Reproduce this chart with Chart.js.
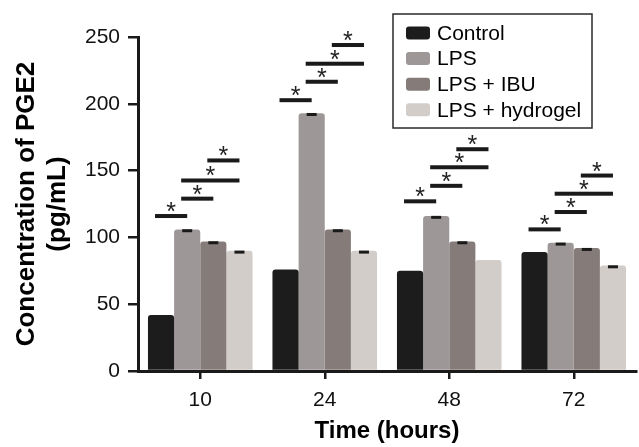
<!DOCTYPE html>
<html>
<head>
<meta charset="utf-8">
<script src="https://cdn.jsdelivr.net/npm/chart.js@4.4.1/dist/chart.umd.min.js"></script>
<style>
html,body{margin:0;padding:0;background:#fff;}
#wrap{width:639px;height:447px;position:relative;}
</style>
</head>
<body>
<div id="wrap"><canvas id="c" width="639" height="447"></canvas></div>
<script>
// ---- data ----
const categories = ['10', '24', '48', '72'];
const seriesNames = ['Control', 'LPS', 'LPS + IBU', 'LPS + hydrogel'];
const control  = [42, 76, 75, 89];
const lps      = [106, 193, 116, 96];
const lpsIbu   = [97, 106, 97, 92];
const lpsHydro = [90, 90, 83, 79];
// error (SEM) values; 0 = not visible
const controlErr  = [0, 0, 0, 0];
const lpsErr      = [1, 1, 1, 1];
const lpsIbuErr   = [1, 1, 1, 1];
const lpsHydroErr = [1, 1, 0, 1];
const yTicks = [0, 50, 100, 150, 200, 250];
// significance bars: pairs of series and heights per time point
const sigPairs = [[0, 1], [1, 2], [1, 3], [2, 3]];
const sigControlLps = [116, 202.7, 127, 106];
const sigLpsIbu     = [129, 216.5, 138.6, 119];
const sigLpsHydro   = [142.6, 230, 152.5, 132.7];
const sigIbuHydro   = [157.6, 244, 166, 146.3];

// ---- styles ----
const FONT = '"Liberation Sans", Arial, Helvetica, sans-serif';
const colors = ['#1c1c1c', '#9d9797', '#857b79', '#d2cdc9'];
const INK = '#1a1a1a';

const values = [control, lps, lpsIbu, lpsHydro];
const errs = [controlErr, lpsErr, lpsIbuErr, lpsHydroErr];
const sigHeights = [sigControlLps, sigLpsIbu, sigLpsHydro, sigIbuHydro];

const datasets = seriesNames.map((name, i) => ({
  label: name,
  data: values[i],
  backgroundColor: colors[i],
  borderWidth: 0,
  borderRadius: 3,
  borderSkipped: 'start',
  categoryPercentage: 0.84,
  barPercentage: 1.0
}));

const overlay = {
  id: 'overlay',
  afterDatasetsDraw(chart) {
    const ctx = chart.ctx;
    const y = chart.scales.y;
    ctx.save();
    // error dashes
    datasets.forEach((ds, di) => {
      const meta = chart.getDatasetMeta(di);
      meta.data.forEach((bar, i) => {
        const e = errs[di][i];
        if (!e) return;
        const yc = y.getPixelForValue(values[di][i] - e);
        ctx.fillStyle = INK;
        ctx.fillRect(bar.x - 5, yc - 1.5, 10, 3);
      });
    });
    // significance bars
    categories.forEach((cat, i) => {
      sigPairs.forEach((pair, k) => {
        const a = chart.getDatasetMeta(pair[0]).data[i];
        const b = chart.getDatasetMeta(pair[1]).data[i];
        const x1 = a.x - 6, x2 = b.x;
        const yy = y.getPixelForValue(sigHeights[k][i]);
        ctx.fillStyle = INK;
        ctx.fillRect(x1, yy - 2, x2 - x1, 4);
        ctx.font = '25px ' + FONT;
        ctx.textAlign = 'center';
        ctx.textBaseline = 'alphabetic';
        ctx.fillStyle = '#222';
        ctx.fillText('*', (x1 + x2) / 2, yy + 4);
      });
    });
    ctx.restore();
  },
  afterDraw(chart) {
    const ctx = chart.ctx;
    ctx.save();
    // legend box
    const bx = 393, by = 14, bw = 199, bh = 114;
    ctx.fillStyle = '#fff';
    ctx.fillRect(bx, by, bw, bh);
    ctx.strokeStyle = '#2a2a2a';
    ctx.lineWidth = 1.5;
    ctx.strokeRect(bx, by, bw, bh);
    const rowY = [33, 58.6, 84.2, 109.8];
    seriesNames.forEach((name, i) => {
      ctx.fillStyle = colors[i];
      ctx.beginPath();
      ctx.roundRect(406, rowY[i] - 6.5, 24, 13, 3);
      ctx.fill();
      ctx.fillStyle = '#000';
      ctx.font = '21px ' + FONT;
      ctx.textAlign = 'left';
      ctx.textBaseline = 'middle';
      ctx.fillText(name, 437, rowY[i] + 1);
    });
    ctx.restore();
  }
};

new Chart(document.getElementById('c'), {
  type: 'bar',
  data: { labels: categories, datasets: datasets },
  options: {
    responsive: false,
    animation: false,
    devicePixelRatio: 1,
    layout: { padding: { left: 0, right: 3, top: 37, bottom: 0 } },
    plugins: { legend: { display: false }, tooltip: { enabled: false } },
    scales: {
      x: {
        grid: { drawOnChartArea: false, offset: false, tickLength: 8, lineWidth: 2.5, color: INK },
        border: { display: true, width: 3, color: INK },
        ticks: { font: { family: FONT, size: 21 }, color: '#111', padding: 9 },
        title: { display: true, text: 'Time (hours)', color: '#000',
                 font: { family: FONT, size: 24, weight: 'bold' }, padding: { top: 0, bottom: 1 } },
        afterFit: (s) => { s.height = 76; }
      },
      y: {
        min: 0, max: 250,
        afterBuildTicks: (s) => { s.ticks = yTicks.map(v => ({ value: v })); },
        grid: { drawOnChartArea: false, tickLength: 10, lineWidth: 2.5, color: INK },
        border: { display: true, width: 3, color: INK },
        ticks: { font: { family: FONT, size: 21 }, color: '#111', padding: 8 },
        title: { display: true, text: ['Concentration of PGE2', '(pg/mL)'], color: '#000',
                 font: { family: FONT, size: 26, weight: 'bold', lineHeight: 1.2 }, padding: { top: 11, bottom: 0 } },
        afterFit: (s) => { s.width = 138; }
      }
    }
  },
  plugins: [overlay]
});
</script>
</body>
</html>
